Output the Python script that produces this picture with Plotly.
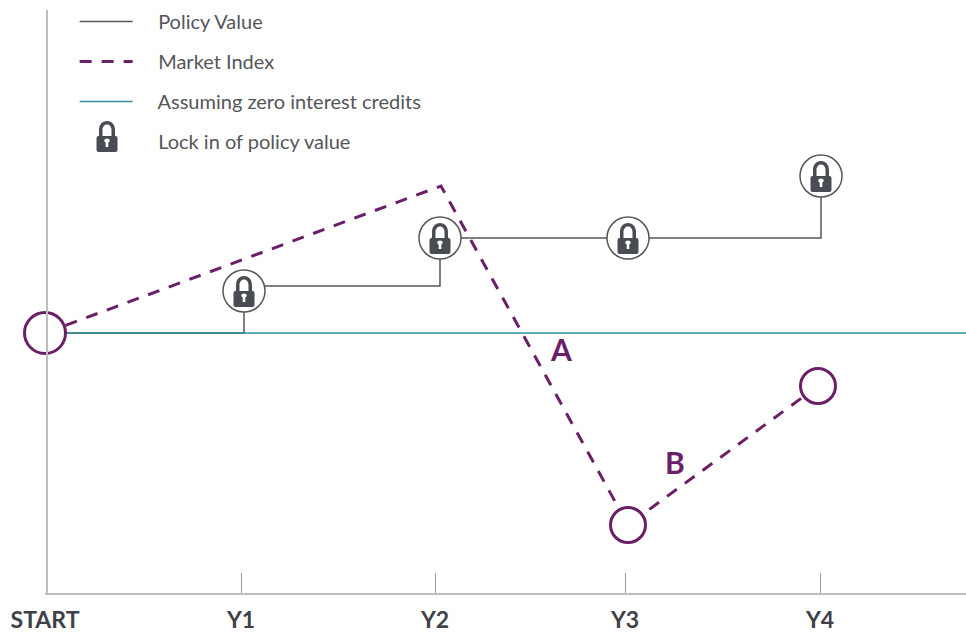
import plotly.graph_objects as go

# Chart values (x: time position, y: value relative to the starting level)
tick_vals = [0, 196, 390, 580, 775]
tick_text = ["<b>START</b>", "<b>Y1</b>", "<b>Y2</b>", "<b>Y3</b>", "<b>Y4</b>"]

policy_x = [0, 199, 199, 395, 395, 776, 776]
policy_y = [0, 0, 47, 47, 95, 95, 157]

market_x = [0, 396, 583, 773]
market_y = [0, 147, -192, -53]

zero_x = [0, 921]
zero_y = [0, 0]

lock_x = [199, 395, 583, 776]
lock_y = [42, 95, 95, 157]

hollow_x = [0, 583, 773]
hollow_y = [0, -192, -53]
hollow_size = [41, 35, 35]

PURPLE = "#6b1f67"
TEAL = "#2f9095"
GREY = "#55565a"
LOCK = "#4a4c54"
AXIS = "#bdbdbd"
FONT = "Lato"
PAD = "\u00a0" * 4

LOCK_PATH = (
    "M-10.5,-2 Q-10.5,0 -8.5,0 L8.5,0 Q10.5,0 10.5,-2 L10.5,-14 Q10.5,-16 8.5,-16 "
    "L-8.5,-16 Q-10.5,-16 -10.5,-14 Z "
    "M-8,0 L-8,6 C-8,18 8,18 8,6 L8,0 L4.5,0 L4.5,6 C4.5,13.5 -4.5,13.5 -4.5,6 L-4.5,0 Z "
    "M-1.3,-6.5 C-3.5,-5.5 -3.2,-2.5 0,-2.5 C3.2,-2.5 3.5,-5.5 1.3,-6.5 L1.3,-11 L-1.3,-11 Z"
)


def lock_shape(x, y):
    return dict(
        type="path", xref="x", yref="y", xsizemode="pixel", ysizemode="pixel",
        xanchor=x, yanchor=y, path=LOCK_PATH, fillcolor=LOCK, fillrule="evenodd",
        line=dict(width=0), layer="above",
    )


fig = go.Figure()
fig.add_trace(go.Scatter(x=policy_x, y=policy_y, mode="lines", name=PAD + "Policy Value",
                         legendgroup="a", line=dict(color=GREY, width=1.5)))
fig.add_trace(go.Scatter(x=market_x, y=market_y, mode="lines", name=PAD + "Market Index",
                         legendgroup="b", line=dict(color=PURPLE, width=3, dash="12px,10px")))
fig.add_trace(go.Scatter(x=zero_x, y=zero_y, mode="lines", name=PAD + "Assuming zero interest credits",
                         legendgroup="c", line=dict(color=TEAL, width=1.5)))
fig.add_trace(go.Scatter(x=[None], y=[None], mode="markers", name=PAD + "Lock in of policy value",
                         legendgroup="d",
                         marker=dict(size=10, color="rgba(0,0,0,0)", line=dict(width=0))))
fig.add_trace(go.Scatter(x=lock_x, y=lock_y, mode="markers", showlegend=False, cliponaxis=False,
                         marker=dict(size=42, color="white", opacity=1, line=dict(color=GREY, width=1.5))))
fig.add_trace(go.Scatter(x=hollow_x, y=hollow_y, mode="markers", showlegend=False, cliponaxis=False,
                         marker=dict(size=hollow_size, color="white", opacity=1, line=dict(color=PURPLE, width=3))))

shapes = [lock_shape(x, y) for x, y in zip(lock_x, lock_y)]
shapes.append(lock_shape(62, 197))

fig.update_layout(
    width=966, height=633, autosize=False,
    paper_bgcolor="white", plot_bgcolor="white",
    margin=dict(l=45, r=0, t=0, b=40),
    shapes=shapes,
    hovermode=False,
    font=dict(family=FONT, color=GREY),
    legend=dict(
        x=0.0322, y=0.9966, xanchor="left", yanchor="top",
        itemwidth=53, tracegroupgap=11, bgcolor="rgba(0,0,0,0)",
        font=dict(size=20, family=FONT, color=GREY),
        itemclick=False, itemdoubleclick=False,
    ),
    xaxis=dict(
        range=[0, 921], tickmode="array", tickvals=tick_vals, ticktext=tick_text,
        ticks="inside", ticklen=20, tickwidth=1, tickcolor="#9a9a9a",
        ticklabelstandoff=5, automargin=False,
        showgrid=False, zeroline=False, showline=True, linecolor=AXIS, linewidth=2,
        tickfont=dict(family=FONT, size=23, color="#3f4148"),
    ),
    yaxis=dict(
        domain=[0, 583 / 593], anchor="free", position=0.002,
        range=[-260, 323], showticklabels=False, ticks="", showgrid=False,
        zeroline=False, showline=True, linecolor=AXIS, linewidth=2,
    ),
    annotations=[
        dict(x=516, y=-16, text="<b>A</b>", showarrow=False,
             font=dict(family=FONT, size=30, color=PURPLE)),
        dict(x=630, y=-129, text="<b>B</b>", showarrow=False,
             font=dict(family=FONT, size=30, color=PURPLE)),
    ],
)

fig.write_html("out.html", default_width="966px", default_height="633px",
               config={"displayModeBar": False},
               post_script="document.body.style.margin='0';document.documentElement.style.overflow='hidden';")
